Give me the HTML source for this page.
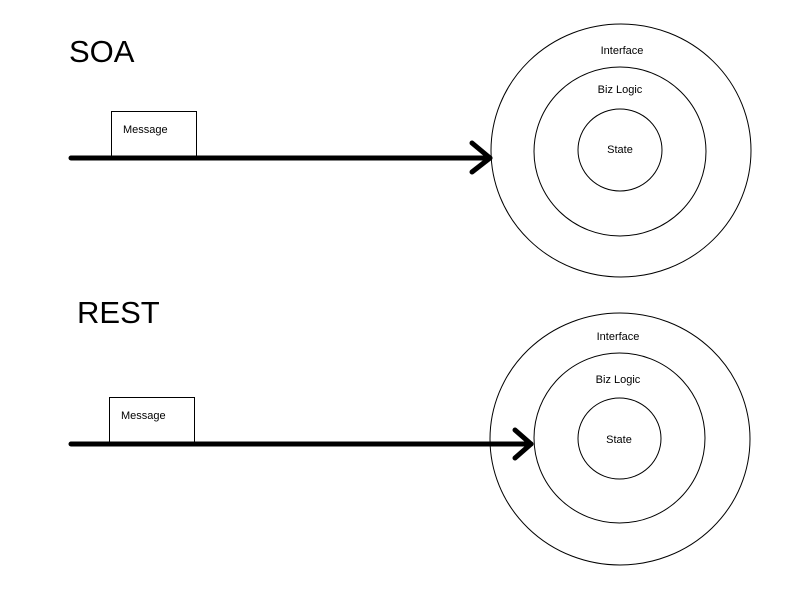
<!DOCTYPE html>
<html><head><meta charset="utf-8"><style>
html,body{margin:0;padding:0;background:#fff;}
svg{display:block;}
text{font-family:"Liberation Sans",Arial,sans-serif;fill:#000;}
</style></head><body>
<svg width="800" height="600" viewBox="0 0 800 600" xmlns="http://www.w3.org/2000/svg">
<rect width="800" height="600" fill="#fff"/>
<g fill="none" stroke="#000" stroke-width="1">
<ellipse cx="621" cy="150.5" rx="130" ry="126.5"/>
<ellipse cx="620" cy="151.5" rx="86" ry="84.5"/>
<ellipse cx="620" cy="150" rx="42" ry="41"/>
<ellipse cx="620" cy="439" rx="130" ry="126"/>
<ellipse cx="619.5" cy="438" rx="85.5" ry="85"/>
<ellipse cx="619.5" cy="438.5" rx="41.5" ry="40.5"/>
<rect x="111.5" y="111.5" width="85" height="46"/>
<rect x="109.5" y="397.5" width="85" height="46"/>
</g>
<g fill="none" stroke="#000" stroke-width="5" stroke-linecap="round" stroke-linejoin="round">
<line x1="71" y1="158" x2="490" y2="158"/>
<polyline points="472,143 490,158 472,172"/>
<line x1="71" y1="444" x2="531" y2="444"/>
<polyline points="515,430 531,444 515,458"/>
</g>
<text x="69" y="62" font-size="31">SOA</text>
<text x="77" y="323" font-size="31">REST</text>
<text x="123" y="133" font-size="11">Message</text>
<text x="121" y="419" font-size="11">Message</text>
<g font-size="11" text-anchor="middle">
<text x="622" y="54">Interface</text>
<text x="620" y="93">Biz Logic</text>
<text x="620" y="153">State</text>
<text x="618" y="340">Interface</text>
<text x="618" y="383">Biz Logic</text>
<text x="619" y="443">State</text>
</g>
</svg>
</body></html>
